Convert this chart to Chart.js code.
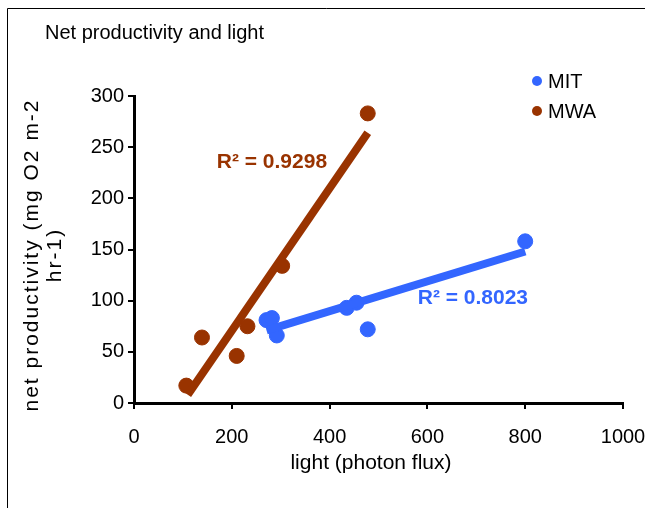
<!DOCTYPE html>
<html>
<head>
<meta charset="utf-8">
<script src="https://cdn.jsdelivr.net/npm/chart.js@4"></script>
<style>
  html, body { margin: 0; padding: 0; background: #fff; }
  #wrap { width: 645px; height: 508px; position: relative; }
</style>
</head>
<body>
<div id="wrap"><canvas id="scatterChart" width="645" height="508"></canvas></div>
<script>
// values
const seriesNames = ['MIT', 'MWA'];
const mitLight = [271, 282, 292, 435, 455, 478, 800];
const mitProd  = [81, 83, 66, 93, 98, 72, 158];
const mwaLight = [107, 139, 210, 232, 303, 478];
const mwaProd  = [17, 64, 46, 75, 134, 283];
// trendline ends (as drawn in the picture)
const mitTrendLight = [271, 800];
const mitTrendProd  = [71, 148];
const mwaTrendLight = [110, 478];
const mwaTrendProd  = [8, 264];
const rSquared = ['R\u00B2 = 0.8023', 'R\u00B2 = 0.9298'];

const BLUE = '#3366FF';
const BROWN = '#993300';
const FONT = '"Liberation Sans", Arial, sans-serif';

function pts(xs, ys) {
    return xs.map((x, i) => ({ x: x, y: ys[i] }));
}

const extras = {
    id: 'extras',
    afterDraw(chart) {
        const ctx = chart.ctx;
        const xs = chart.scales.x, ys = chart.scales.y;
        ctx.save();
        // frame
        ctx.strokeStyle = '#000';
        ctx.lineWidth = 1;
        ctx.beginPath();
        ctx.moveTo(7.5, 508);
        ctx.lineTo(7.5, 8.5);
        ctx.lineTo(645, 8.5);
        ctx.stroke();

        // title
        ctx.fillStyle = '#000';
        ctx.font = '20px ' + FONT;
        ctx.textBaseline = 'middle';
        ctx.textAlign = 'left';
        ctx.fillText('Net productivity and light', 45, 33);

        // legend
        const colors = [BLUE, BROWN];
        seriesNames.forEach((name, i) => {
            const y = 81 + i * 30;
            ctx.fillStyle = colors[i];
            ctx.beginPath();
            ctx.arc(537, y, 5, 0, Math.PI * 2);
            ctx.fill();
            ctx.fillStyle = '#000';
            ctx.fillText(name, 548, y + 1);
        });

        // x title
        ctx.font = '21px ' + FONT;
        ctx.textAlign = 'center';
        ctx.fillText('light (photon flux)', 371, 463);

        // y title
        ctx.save();
        ctx.translate(32, 255);
        ctx.rotate(-Math.PI / 2);
        ctx.letterSpacing = '2px';
        ctx.fillText('net productivity (mg O2 m-2', 0, 0);
        ctx.fillText('hr-1)', 0, 23);
        ctx.restore();

        // R squared labels
        ctx.font = 'bold 21px ' + FONT;
        ctx.fillStyle = BLUE;
        ctx.fillText(rSquared[0], xs.getPixelForValue(693), ys.getPixelForValue(102));
        ctx.fillStyle = BROWN;
        ctx.fillText(rSquared[1], xs.getPixelForValue(282), ys.getPixelForValue(235));
        ctx.restore();
    }
};

const ctx = document.getElementById('scatterChart').getContext('2d');
const myChart = new Chart(ctx, {
    type: 'scatter',
    data: {
        datasets: [{
            label: seriesNames[0],
            data: pts(mitLight, mitProd),
            backgroundColor: BLUE,
            borderColor: BLUE,
            pointRadius: 7.5,
            pointHoverRadius: 7.5,
            order: 2
        },
        {
            label: seriesNames[1],
            data: pts(mwaLight, mwaProd),
            backgroundColor: BROWN,
            borderColor: BROWN,
            pointRadius: 7.5,
            pointHoverRadius: 7.5,
            order: 2
        },
        {
            label: 'MIT trend',
            data: pts(mitTrendLight, mitTrendProd),
            showLine: true,
            borderColor: BLUE,
            borderWidth: 8,
            pointRadius: 0,
            order: 1
        },
        {
            label: 'MWA trend',
            data: pts(mwaTrendLight, mwaTrendProd),
            showLine: true,
            borderColor: BROWN,
            borderWidth: 8,
            pointRadius: 0,
            order: 1
        }]
    },
    options: {
        responsive: false,
        animation: false,
        layout: { padding: { left: 0, top: 96, right: 22, bottom: 0 } },
        plugins: {
            legend: { display: false },
            title: { display: false },
            tooltip: { enabled: false }
        },
        scales: {
            x: {
                type: 'linear',
                min: 0,
                max: 1000,
                afterFit(s) { s.height = 105; s.paddingRight = 0; s.paddingLeft = 0; },
                ticks: { stepSize: 200, color: '#000', padding: 16, maxRotation: 0,
                         callback: v => String(v),
                         font: { family: FONT, size: 20 } },
                grid: { drawOnChartArea: false, drawTicks: true, tickLength: 6, color: '#000', lineWidth: 2 },
                border: { display: true, color: '#000', width: 3 }
            },
            y: {
                min: 0,
                max: 300,
                afterFit(s) { s.width = 134; s.paddingTop = 0; s.paddingBottom = 0; },
                ticks: { stepSize: 50, color: '#000', padding: 4,
                         font: { family: FONT, size: 20 } },
                grid: { drawOnChartArea: false, drawTicks: true, tickLength: 6, color: '#000', lineWidth: 2 },
                border: { display: true, color: '#000', width: 3 }
            }
        }
    },
    plugins: [extras]
});
</script>
</body>
</html>
